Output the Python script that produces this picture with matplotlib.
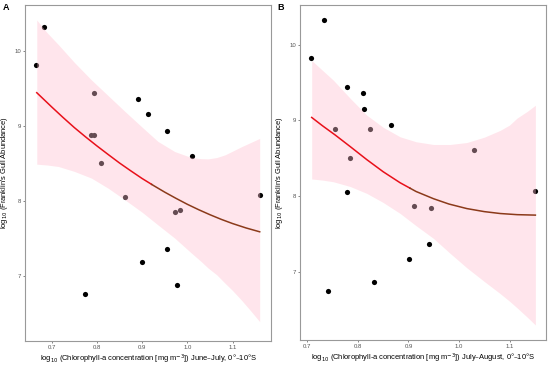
import numpy as np
import matplotlib
matplotlib.use("Agg")
import matplotlib.pyplot as plt

plt.rcParams['font.family'] = ['Liberation Sans', 'DejaVu Sans']

# June-July chlorophyll (log10) vs log10 gull abundance
x_jun_jul = [0.683, 0.665, 0.794, 0.890, 0.912, 0.955, 1.010, 0.787, 0.794,
             0.808, 0.863, 1.160, 0.973, 0.984, 0.956, 0.899, 0.977, 0.773]
y_jun_jul = [10.33, 9.82, 9.45, 9.37, 9.16, 8.94, 8.61, 8.89, 8.89,
             8.51, 8.06, 8.08, 7.86, 7.88, 7.37, 7.19, 6.89, 6.76]

# July-August
x_jul_aug = [0.733, 0.707, 0.778, 0.810, 0.812, 0.865, 0.755, 0.824, 0.784,
             1.030, 0.778, 1.150, 0.911, 0.944, 0.940, 0.901, 0.831, 0.741]
y_jul_aug = [10.32, 9.82, 9.44, 9.36, 9.15, 8.94, 8.89, 8.89, 8.51,
             8.61, 8.06, 8.07, 7.87, 7.85, 7.37, 7.18, 6.88, 6.75]

# fitted curves and confidence bands
fit_x_A = [0.667, 0.70, 0.725, 0.75, 0.775, 0.80, 0.825, 0.85, 0.875, 0.90,
           0.925, 0.95, 0.975, 1.00, 1.025, 1.05, 1.075, 1.10, 1.13, 1.16]
fit_y_A = [9.45, 9.26, 9.12, 8.985, 8.86, 8.74, 8.625, 8.512, 8.407, 8.305,
           8.212, 8.123, 8.04, 7.961, 7.889, 7.822, 7.76, 7.704, 7.645, 7.594]
band_x_A = [0.667, 0.69, 0.715, 0.75, 0.788, 0.825, 0.862, 0.90, 0.935, 0.972,
            1.009, 1.03, 1.046, 1.065, 1.083, 1.10, 1.120, 1.14, 1.160]
band_hi_A = [10.42, 10.25, 10.09, 9.855, 9.62, 9.41, 9.20, 8.99, 8.80, 8.665,
             8.585, 8.57, 8.567, 8.585, 8.62, 8.67, 8.73, 8.785, 8.84]
band_lo_A = [8.496, 8.485, 8.465, 8.40, 8.31, 8.175, 8.02, 7.855, 7.686, 7.51,
             7.31, 7.20, 7.11, 7.02, 6.91, 6.81, 6.68, 6.54, 6.395]

fit_x_B = [0.7086, 0.73, 0.7548, 0.785, 0.8175, 0.85, 0.8835, 0.915,
           0.9495, 0.98, 1.0155, 1.05, 1.0815, 1.115, 1.151]
fit_y_B = [9.04, 8.93, 8.81, 8.655, 8.485, 8.325, 8.18, 8.065,
           7.97, 7.90, 7.84, 7.80, 7.775, 7.76, 7.754]
band_x_B = [0.7086, 0.73, 0.7515, 0.785, 0.8175, 0.85, 0.8835, 0.915, 0.9495,
            0.9825, 1.0155, 1.05, 1.0815, 1.10, 1.1145, 1.135, 1.151]
band_hi_B = [9.79, 9.66, 9.53, 9.29, 9.07, 8.91, 8.785, 8.72, 8.684,
             8.684, 8.71, 8.78, 8.87, 8.94, 9.03, 9.12, 9.20]
band_lo_B = [8.23, 8.215, 8.193, 8.13, 8.04, 7.92, 7.776, 7.615, 7.447,
             7.25, 7.06, 6.88, 6.72, 6.62, 6.535, 6.41, 6.307]

xlabels = [r"log$_{10}$ (Chlorophyll-a concentration [mg m$^{-3}$]) June–July, 0°–10°S",
           r"log$_{10}$ (Chlorophyll-a concentration [mg m$^{-3}$]) July–August, 0°–10°S"]
ylabel = r"log$_{10}$ (Franklin's Gull Abundance)"
xticks = [0.7, 0.8, 0.9, 1.0, 1.1]
yticks = [7, 8, 9, 10]

fig = plt.figure(figsize=(5.5, 3.66), dpi=100)
axA = fig.add_axes([25/550, 1 - 341/366, 246/550, 336/366])
axB = fig.add_axes([300/550, 1 - 340/366, 246/550, 335/366])

panels = [
    (axA, x_jun_jul, y_jun_jul, fit_x_A, fit_y_A, band_x_A, band_lo_A, band_hi_A),
    (axB, x_jul_aug, y_jul_aug, fit_x_B, fit_y_B, band_x_B, band_lo_B, band_hi_B),
]
xlims = [(0.641, 1.185), (0.6855, 1.172)]
ylims = [(6.137, 10.62), (6.11, 10.52)]
breaks = [0.921, 0.903]  # line turns from red to brown here

for i, (ax, x, y, fx, fy, bx, blo, bhi) in enumerate(panels):
    ax.scatter(x, y, s=14, color='black', zorder=2, linewidths=0)
    ax.fill_between(bx, blo, bhi, color='#ffc0d0', alpha=0.4, linewidth=0, zorder=3)
    fx = np.array(fx)
    fy = np.array(fy)
    # split the curve at the colour change, sharing the point at the break
    yb = np.interp(breaks[i], fx, fy)
    m = fx < breaks[i]
    ax.plot(list(fx[m]) + [breaks[i]], list(fy[m]) + [yb], color='#e8101a', lw=1.1,
            zorder=4, solid_joinstyle='round')
    ax.plot([breaks[i]] + list(fx[~m]), [yb] + list(fy[~m]), color='#8b3a1a', lw=1.1,
            zorder=4, solid_joinstyle='round')
    ax.set_xlim(*xlims[i])
    ax.set_ylim(*ylims[i])
    ax.set_xticks(xticks)
    ax.set_xticklabels([str(v) for v in xticks])
    ax.set_yticks(yticks)
    ax.tick_params(labelsize=4.3, colors='#555555', length=1.5, width=0.5, pad=1.5)
    for sp in ax.spines.values():
        sp.set_color('#999999')
        sp.set_linewidth(0.8)
    ax.set_xlabel(xlabels[i], fontsize=5.4, labelpad=2)
    ax.set_ylabel(ylabel, fontsize=5.4, labelpad=3)

fig.text(6/550, 1 - 8/366, "A", fontsize=6.5, fontweight='bold', va='center', ha='center')
fig.text(281/550, 1 - 8/366, "B", fontsize=6.5, fontweight='bold', va='center', ha='center')

fig.savefig("out.png", dpi=100)
